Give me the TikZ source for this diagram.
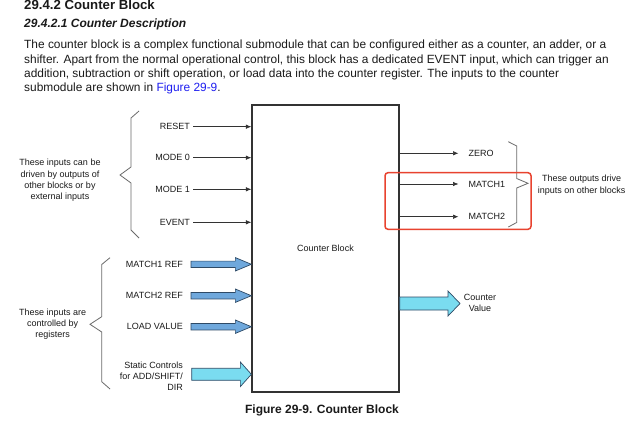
\documentclass[tikz,border=0pt]{standalone}
\usepackage{fontspec}
\setmainfont{Liberation Sans}
\usetikzlibrary{calc,arrows.meta}
\definecolor{txt}{HTML}{1A1A1A}
\definecolor{linegray}{HTML}{333333}
\definecolor{bracegray}{HTML}{6A6A6A}
\definecolor{blkblue}{HTML}{6FA8DC}
\definecolor{blkcyan}{HTML}{7ADCF0}
\definecolor{blkedge}{HTML}{2E4A66}
\definecolor{hlred}{HTML}{E8432F}
\definecolor{linkblue}{HTML}{1F1FF0}
\newcommand\blkarrow[6]{%
  \draw[#1] ($(#2)+(0,-#5)$) -- ($(#3)+(-#4,-#5)$) -- ($(#3)+(-#4,-#6)$) -- (#3)
    -- ($(#3)+(-#4,#6)$) -- ($(#3)+(-#4,#5)$) -- ($(#2)+(0,#5)$) -- cycle;}
\begin{document}
\begin{tikzpicture}[x=1pt,y=-1pt,
  every node/.style={text=txt},
  lbl/.style={inner sep=0pt, font=\fontsize{9}{11}\selectfont, text height=6.45pt, text depth=0pt},
  multi/.style={inner sep=0pt, font=\fontsize{9}{11.1}\selectfont, align=center},
  para/.style={anchor=base west, inner sep=0pt, font=\fontsize{11.9}{14.5}\selectfont},
  thinarrow/.style={draw=linegray, line width=0.7pt, -{Latex[length=5.5pt,width=4.5pt]}},
  bracestyle/.style={draw=bracegray, line width=0.8pt},
  bluearrow/.style={fill=blkblue, draw=blkedge, line width=0.7pt, line join=miter},
  cyanarrow/.style={fill=blkcyan, draw=blkedge, line width=0.7pt, line join=miter}]
\useasboundingbox[fill=white] (0,0) rectangle (640,428);

% headings and paragraph
\node[anchor=base west, inner sep=0pt, font=\fontsize{13.2}{15}\selectfont\bfseries] (h1) at (24,9.8) {29.4.2 Counter Block};
\node[anchor=base west, inner sep=0pt, font=\fontsize{12}{14}\selectfont\bfseries\itshape] (h2) at (24,27.5) {29.4.2.1 Counter Description};
\node[para] (p1) at (24,48.8) {The counter block is a complex functional submodule that can be configured either as a counter, an adder, or a};
\node[para] (p2) at (24,63.1) {shifter. Apart from the normal operational control, this block has a dedicated EVENT input, which can trigger an};
\node[para] (p3) at (24,77.4) {addition, subtraction or shift operation, or load data into the counter register. The inputs to the counter};
\node[para] (p4) at (24,91.7) {submodule are shown in \textcolor{linkblue}{Figure 29-9}.};

% main block
\node[draw=linegray, line width=1.3pt, minimum width=147pt, minimum height=287pt, inner sep=0pt,
      font=\fontsize{9}{11}\selectfont] (cb) at (325.5,248.5) {Counter Block};

% thin inputs
\node[lbl, anchor=east] (reset) at (190,126.7) {RESET};
\node[lbl, anchor=east] (mode0) at (190,157.7) {MODE 0};
\node[lbl, anchor=east] (mode1) at (190,189.3) {MODE 1};
\node[lbl, anchor=east] (event) at (190,222.3) {EVENT};
\foreach \n in {reset,mode0,mode1,event}
  \draw[thinarrow, shorten <=3pt] (\n.east) -- (\n.east -| cb.west);

% thin outputs
\node[lbl, anchor=west] (zero) at (468.5,153.3) {ZERO};
\node[lbl, anchor=west] (match1) at (468.5,184) {MATCH1};
\node[lbl, anchor=west] (match2) at (468.5,216.7) {MATCH2};
\foreach \n in {zero,match1,match2}
  \draw[thinarrow, shorten >=10pt] (\n.west -| cb.east) -- (\n.west);

% register inputs
\node[lbl, anchor=east] (m1ref) at (183,264.3) {MATCH1 REF};
\node[lbl, anchor=east] (m2ref) at (183,295.7) {MATCH2 REF};
\node[lbl, anchor=east] (ldval) at (183,326.7) {LOAD VALUE};
\node[multi, align=right, anchor=east] (stat) at (183,376.2) {Static Controls\\for ADD/SHIFT/\\DIR};
\foreach \n in {m1ref,m2ref,ldval}{
  \coordinate (\n t) at ($(\n.east)+(8,0)$);
  \coordinate (\n h) at (\n.east -| cb.west);
  \blkarrow{bluearrow}{\n t}{\n h}{16}{3.2}{6.7}
}
\coordinate (statt) at (191.7,374.3);
\coordinate (stath) at (statt -| cb.west);
\blkarrow{cyanarrow}{statt}{stath}{11}{6}{12.3}

% counter value output
\node[multi] (cval) at (480,302.6) {Counter\\Value};
\coordinate (cvtip) at (460,303.5);
\coordinate (cvtail) at (cvtip -| cb.east);
\blkarrow{cyanarrow}{cvtail}{cvtip}{12}{6.5}{12.5}

% braces
\draw[bracestyle] (139,111) -- (131,118) -- (131,167) -- (120,175) -- (131,183) -- (131,230) -- (139,238);
\draw[bracestyle] (110,257.7) -- (101.7,264.5) -- (101.7,316.7) -- (90,324.3) -- (101.7,332) -- (101.7,381.7) -- (110,389);
\draw[bracestyle] (508.3,141.7) -- (516.7,146) -- (516.7,178.5) -- (528,183.3) -- (516.7,188) -- (516.7,222.5) -- (508.3,227);

% explanatory texts
\node[multi] (inA) at (60,180.3) {These inputs can be\\driven by outputs of\\other blocks or by\\external inputs};
\node[multi] (inB) at (52.7,324.2) {These inputs are\\controlled by\\registers};
\node[multi] (outA) at (581.7,185.2) {These outputs drive\\inputs on other blocks};

% highlight
\draw[hlred, line width=1.5pt, rounded corners=3pt] (385,172.7) rectangle (531,229.3);

% caption
\node[inner sep=0pt, font=\fontsize{12}{14}\selectfont\bfseries] (cap) at (322,410.7) {Figure 29-9. Counter Block};
\end{tikzpicture}
\end{document}
